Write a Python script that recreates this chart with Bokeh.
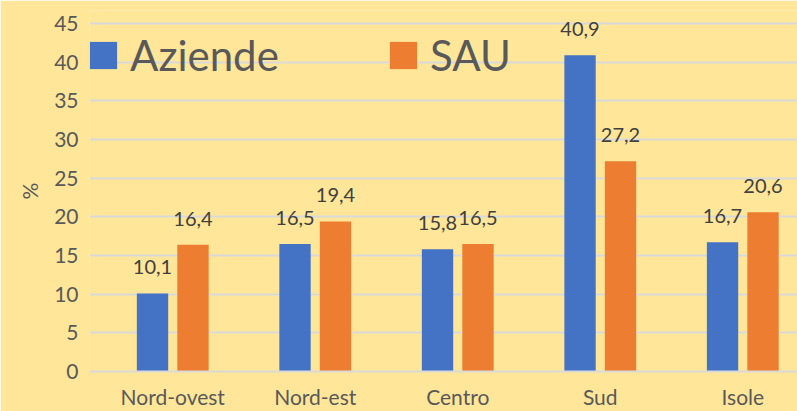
from bokeh.plotting import figure
from bokeh.models import ColumnDataSource, Range1d, FixedTicker, Legend, LegendItem
from bokeh.transform import dodge
from bokeh.core.properties import value
from bokeh.embed import file_html
from bokeh.resources import INLINE

# ---- data ----
regions = ["Nord-ovest", "Nord-est", "Centro", "Sud", "Isole"]
aziende = [10.1, 16.5, 15.8, 40.9, 16.7]
sau = [16.4, 19.4, 16.5, 27.2, 20.6]
y_ticks = [0, 5, 10, 15, 20, 25, 30, 35, 40, 45]
series_names = ["Aziende", "SAU"]
y_label = "%"


def fmt(v):
    return f"{v:.1f}".replace(".", ",")


pos = [i + 0.5 for i in range(len(regions))]
src = ColumnDataSource(dict(
    x=pos, aziende=aziende, sau=sau,
    az_lab=[fmt(v) for v in aziende], sau_lab=[fmt(v) for v in sau],
))

BG = "#FFE699"
FONT = "Lato"
BLUE = "#4472C4"
ORANGE = "#ED7D31"
TXT = "#595959"

# frame: left edge a little before the first category, top edge a little above
# the 45 gridline (so the tallest value label is not clipped)
p = figure(width=797, height=411,
           x_range=Range1d(-0.0842, 4.884), y_range=Range1d(0, 46.68),
           output_backend="svg", toolbar_location=None,
           min_border_left=89, min_border_right=0, min_border_top=10, min_border_bottom=40,
           background_fill_color=BG, border_fill_color=BG, outline_line_color=None)

bw = 0.22
off = 0.142
r1 = p.quad(left=dodge("x", -off - bw / 2), right=dodge("x", -off + bw / 2),
            top="aziende", bottom=0, source=src, fill_color=BLUE, line_color=None)
r2 = p.quad(left=dodge("x", off - bw / 2), right=dodge("x", off + bw / 2),
            top="sau", bottom=0, source=src, fill_color=ORANGE, line_color=None)

for col, lab, o in (("aziende", "az_lab", -off), ("sau", "sau_lab", off)):
    p.text(x=dodge("x", o), y=col, text=lab, source=src,
           text_font=value(FONT), text_font_size="20px", text_color="#404040",
           text_align="center", text_baseline="alphabetic", y_offset=-26)

# axes
p.xaxis.ticker = FixedTicker(ticks=pos)
p.xaxis.major_label_overrides = {pos[i]: regions[i] for i in range(len(regions))}
p.xaxis.axis_line_color = "#D9D9D9"
p.xaxis.axis_line_width = 2
p.xaxis.major_tick_line_color = None
p.xaxis.minor_tick_line_color = None
p.xaxis.major_tick_out = 0
p.xaxis.major_label_standoff = 12
p.xaxis.major_label_text_font = FONT
p.xaxis.major_label_text_font_size = "21px"
p.xaxis.major_label_text_color = TXT

p.yaxis.ticker = FixedTicker(ticks=y_ticks)
p.yaxis.axis_line_color = None
p.yaxis.major_tick_line_color = None
p.yaxis.minor_tick_line_color = None
p.yaxis.major_tick_out = 0
p.yaxis.major_label_standoff = 11
p.yaxis.major_label_text_font = FONT
p.yaxis.major_label_text_font_size = "21px"
p.yaxis.major_label_text_color = TXT
p.yaxis.axis_label = y_label
p.yaxis.axis_label_text_font = FONT
p.yaxis.axis_label_text_font_size = "21px"
p.yaxis.axis_label_text_font_style = "normal"
p.yaxis.axis_label_text_color = TXT
p.yaxis.axis_label_standoff = 9

p.xgrid.visible = False
p.ygrid.grid_line_color = "#D9D9D9"
p.ygrid.grid_line_width = 2

# legend: one single-item legend per series, placed side by side
for r, name, loc in ((r1, series_names[0], (-3, 291)), (r2, series_names[1], (297, 291))):
    p.add_layout(Legend(items=[LegendItem(label=value(name), renderers=[r])], location=loc,
                        orientation="horizontal", glyph_width=34, glyph_height=34,
                        label_standoff=10, label_text_font=FONT, label_text_font_size="42px",
                        label_text_color=TXT, padding=0, margin=0, spacing=0,
                        border_line_color=None, background_fill_alpha=0))

open("out.html", "w").write(file_html(p, INLINE))
